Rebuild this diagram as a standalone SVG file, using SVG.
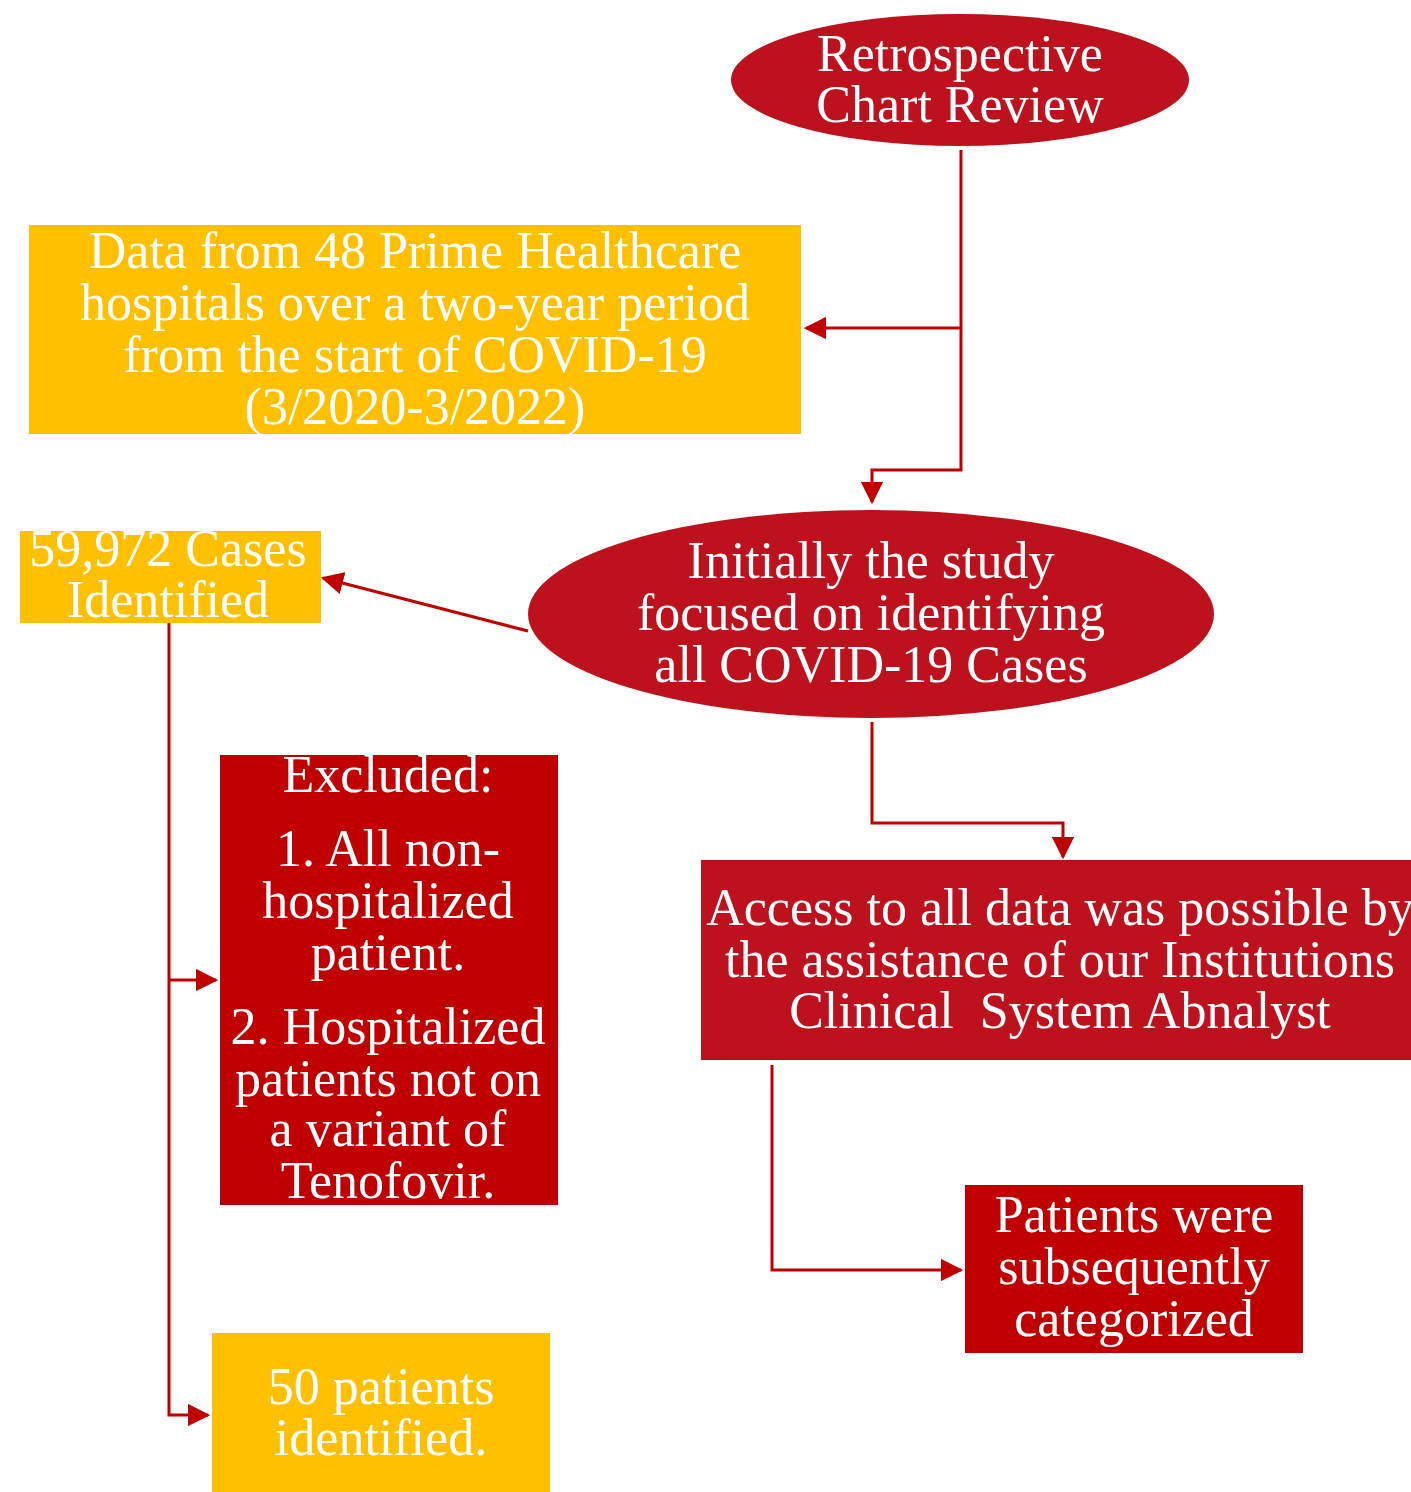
<svg xmlns="http://www.w3.org/2000/svg" width="1411" height="1492" viewBox="0 0 1411 1492">
<style>
text{font-family:"Liberation Serif","Times New Roman",serif;fill:#fff;text-anchor:middle;font-size:52px}
.con{fill:none;stroke:#C00000;stroke-width:3}
.yel{fill:#FFC000}
.red{fill:#C00000}
.crim{fill:#BE111E}
</style>
<defs>
<marker id="ah" viewBox="0 0 10 10" refX="9" refY="5" markerWidth="7.5" markerHeight="7.5" orient="auto" markerUnits="strokeWidth">
<path d="M0,0 L10,5 L0,10 Z" fill="#C00000"/>
</marker>
<clipPath id="clip59"><rect x="20" y="531" width="301" height="92"/></clipPath>
</defs>
<rect width="1411" height="1492" fill="#fff"/>
<g id="connectors">
<path class="con" d="M961,150 V470 H872 V502" marker-end="url(#ah)"/>
<path class="con" d="M961,328 H806" marker-end="url(#ah)"/>
<path class="con" d="M528,631 L323,578" marker-end="url(#ah)"/>
<path class="con" d="M169,623 V1415 H208" marker-end="url(#ah)"/>
<path class="con" d="M169,980 H216" marker-end="url(#ah)"/>
<path class="con" d="M872,722 V823 H1063 V857" marker-end="url(#ah)"/>
<path class="con" d="M772,1065 V1270 H961" marker-end="url(#ah)"/>
</g>
<g id="retro">
<ellipse class="crim" cx="960" cy="80" rx="229" ry="66"/>
<text x="960" y="71">Retrospective</text>
<text x="960" y="122">Chart Review</text>
</g>
<g id="data">
<rect class="yel" x="29" y="225" width="772" height="209"/>
<text x="415" y="268">Data from 48 Prime Healthcare</text>
<text x="415" y="320">hospitals over a two-year period</text>
<text x="415" y="372">from the start of COVID-19</text>
<text x="415" y="424">(3/2020-3/2022)</text>
</g>
<g id="initial">
<ellipse class="crim" cx="871" cy="614" rx="343" ry="104"/>
<text x="871" y="578">Initially the study</text>
<text x="871" y="630">focused on identifying</text>
<text x="871" y="682">all COVID-19 Cases</text>
</g>
<g id="cases">
<rect class="yel" x="20" y="531" width="301" height="92"/>
<g clip-path="url(#clip59)">
<text x="168" y="566">59,972 Cases</text>
<text x="168" y="617">Identified</text>
</g>
</g>
<g id="excluded">
<rect class="red" x="220" y="755" width="338" height="450"/>
<text x="388" y="792">Excluded:</text>
<text x="388" y="866">1. All non-</text>
<text x="388" y="918">hospitalized</text>
<text x="388" y="970">patient.</text>
<text x="388" y="1044">2. Hospitalized</text>
<text x="388" y="1096">patients not on</text>
<text x="388" y="1146">a variant of</text>
<text x="388" y="1198">Tenofovir.</text>
</g>
<g id="access">
<rect class="crim" x="701" y="860" width="715" height="200"/>
<text x="1060" y="925">Access to all data was possible by</text>
<text x="1060" y="977">the assistance of our Institutions</text>
<text x="1060" y="1028" xml:space="preserve">Clinical  System Abnalyst</text>
</g>
<g id="patients">
<rect class="red" x="965" y="1185" width="338" height="168"/>
<text x="1134" y="1232">Patients were</text>
<text x="1134" y="1284">subsequently</text>
<text x="1134" y="1336">categorized</text>
</g>
<g id="fifty">
<rect class="yel" x="212" y="1333" width="338" height="165"/>
<text x="381" y="1404">50 patients</text>
<text x="381" y="1455">identified.</text>
</g>
</svg>
